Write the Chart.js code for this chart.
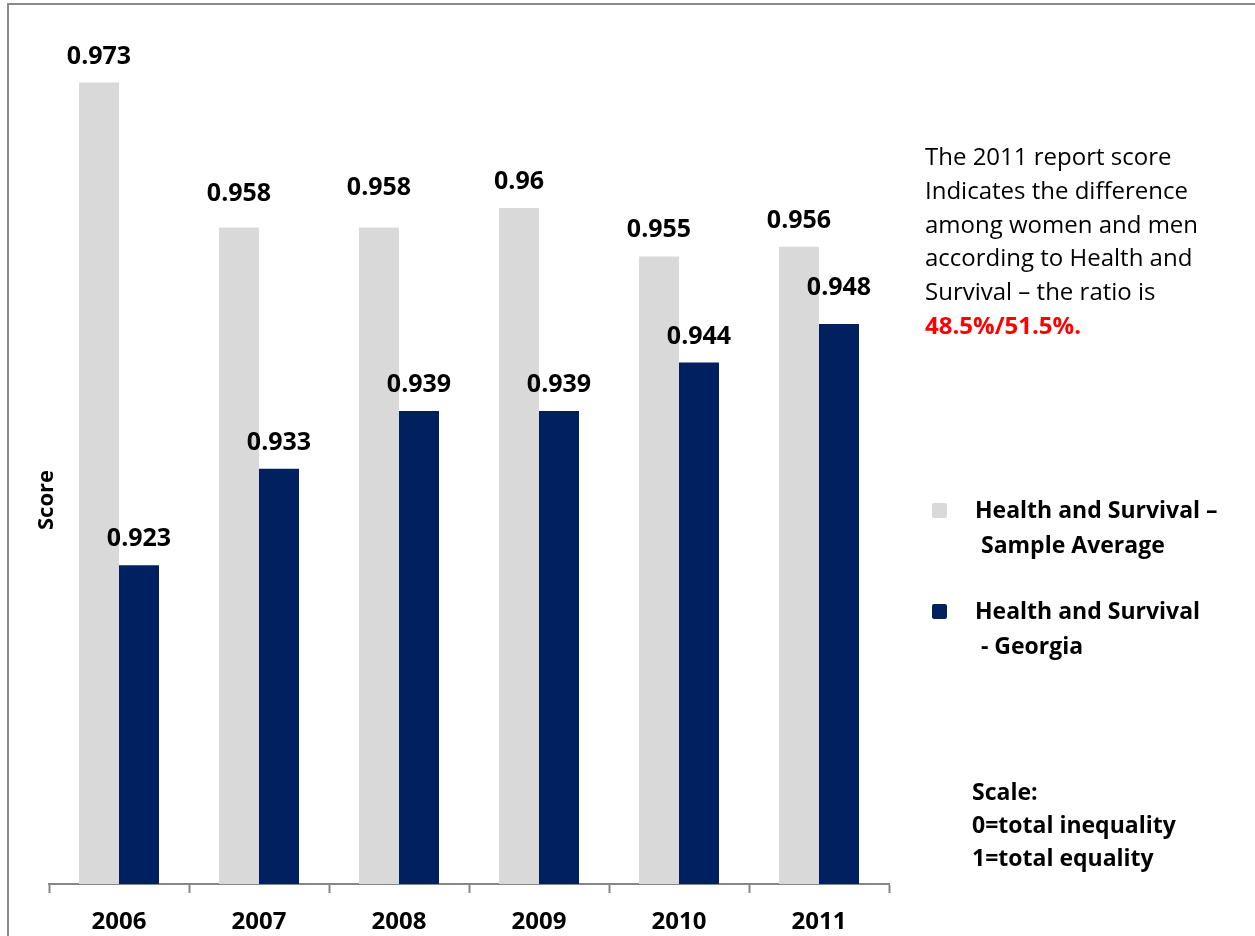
<!DOCTYPE html>
<html>
<head>
<meta charset="utf-8">
<title>Health and Survival</title>
<script src="https://cdn.jsdelivr.net/npm/chart.js@4.4.0/dist/chart.umd.min.js"></script>
<style>
    body{margin:0;background:#fff;overflow:hidden;}
    #wrap{position:relative;width:1255px;height:936px;}
    #frame{position:absolute;left:7px;top:3px;width:1260px;height:940px;border-left:2px solid #8a8a8a;border-top:2px solid #8a8a8a;}
    #chart{position:absolute;left:0;top:0;}
</style>
</head>
<body>
<div id="wrap">
    <div id="frame"></div>
    <canvas id="chart" width="1255" height="936"></canvas>
</div>
<script>
const years = ["2006", "2007", "2008", "2009", "2010", "2011"];
const sampleAverage = [0.973, 0.958, 0.958, 0.96, 0.955, 0.956];
const georgia = [0.923, 0.933, 0.939, 0.939, 0.944, 0.948];
const seriesNames = [
    ["Health and Survival \u2013", " Sample Average"],
    ["Health and Survival", " - Georgia"]
];
const noteLines = [
    "The 2011 report score",
    "Indicates the difference",
    "among women and men",
    "according to Health and",
    "Survival \u2013 the ratio is"
];
const noteRatio = "48.5%/51.5%.";
const scaleLines = ["Scale:", "0=total inequality", "1=total equality"];

const FONT = "'Open Sans', sans-serif";

document.addEventListener("DOMContentLoaded", () => {
    // a few labels sit a little higher than the rest (dataset:index -> px)
    const extraLift = {"0:1": 7, "0:2": 13, "1:5": 10};

    // numbers above each bar
    const valueLabels = {
        id: "valueLabels",
        afterDatasetsDraw: (chart) => {
            const ctx = chart.ctx;
            ctx.save();
            ctx.font = `bold 25px ${FONT}`;
            ctx.fillStyle = "#000";
            ctx.textAlign = "center";
            ctx.textBaseline = "alphabetic";
            chart.data.datasets.forEach((ds, i) => {
                chart.getDatasetMeta(i).data.forEach((bar, j) => {
                    const lift = 19 + (extraLift[`${i}:${j}`] || 0);
                    ctx.fillText(String(ds.data[j]), bar.x, bar.y - lift);
                });
            });
            ctx.restore();
        }
    };

    // axis title, note, legend and scale text on the right
    const sideText = {
        id: "sideText",
        afterDraw: (chart) => {
            const ctx = chart.ctx;
            ctx.save();
            ctx.fillStyle = "#000";
            ctx.textBaseline = "alphabetic";

            ctx.save();
            ctx.translate(53, 500);
            ctx.rotate(-Math.PI / 2);
            ctx.textAlign = "center";
            ctx.font = `bold 22px ${FONT}`;
            ctx.fillText("Score", 0, 0);
            ctx.restore();

            ctx.textAlign = "left";
            ctx.font = `24px ${FONT}`;
            noteLines.forEach((line, i) => {
                ctx.fillText(line, 925, 165 + i * 33.8);
            });
            ctx.font = `bold 24px ${FONT}`;
            ctx.fillStyle = "#ff0000";
            ctx.fillText(noteRatio, 925, 165 + noteLines.length * 33.8);

            ctx.font = `bold 23px ${FONT}`;
            const legendTops = [503, 604];
            chart.data.datasets.forEach((ds, i) => {
                const top = legendTops[i];
                ctx.fillStyle = ds.backgroundColor;
                ctx.beginPath();
                ctx.roundRect(932, top, 15, 15, 2);
                ctx.fill();
                ctx.fillStyle = "#000";
                seriesNames[i].forEach((line, k) => {
                    ctx.fillText(line, 975, top + 15 + k * 35);
                });
            });

            scaleLines.forEach((line, i) => {
                ctx.fillText(line, 972, 800 + i * 33);
            });
            ctx.restore();
        }
    };

    new Chart(document.getElementById("chart"), {
        type: "bar",
        data: {
            labels: years,
            datasets: [
                {
                    label: seriesNames[0].join(" "),
                    data: sampleAverage,
                    backgroundColor: "#d9d9d9"
                },
                {
                    label: seriesNames[1].join(" "),
                    data: georgia,
                    backgroundColor: "#002060"
                }
            ]
        },
        options: {
            responsive: false,
            animation: false,
            devicePixelRatio: 1,
            categoryPercentage: 0.5714,
            barPercentage: 1,
            layout: {
                padding: {left: 49, right: 366, top: 15, bottom: 0}
            },
            plugins: {
                legend: {display: false},
                tooltip: {enabled: false}
            },
            scales: {
                x: {
                    afterFit: (scale) => { scale.height = 52; },
                    border: {color: "#868686", width: 2},
                    grid: {
                        drawOnChartArea: false,
                        drawTicks: true,
                        tickLength: 9,
                        tickColor: "#868686",
                        tickWidth: 2
                    },
                    ticks: {
                        color: "#000",
                        padding: 15,
                        font: {family: FONT, size: 24, weight: "bold"}
                    }
                },
                y: {
                    display: false,
                    min: 0.89,
                    max: 0.98
                }
            }
        },
        plugins: [valueLabels, sideText]
    });
});
</script>
</body>
</html>
